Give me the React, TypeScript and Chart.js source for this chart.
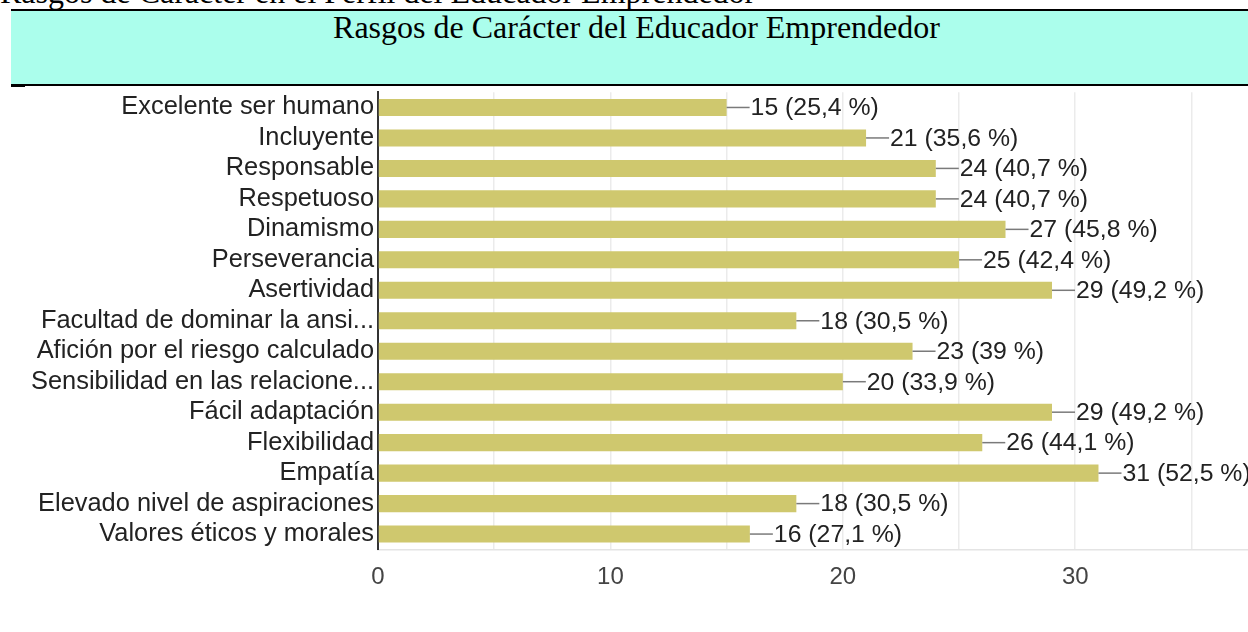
import React, { useEffect, useRef } from 'react';
import { Chart, registerables } from 'chart.js';

Chart.register(...registerables);

const docCaption = 'Rasgos de Carácter en el Perfil del Educador Emprendedor';
const chartTitle = 'Rasgos de Carácter del Educador Emprendedor';

const categories = [
  'Excelente ser humano',
  'Incluyente',
  'Responsable',
  'Respetuoso',
  'Dinamismo',
  'Perseverancia',
  'Asertividad',
  'Facultad de dominar la ansi...',
  'Afición por el riesgo calculado',
  'Sensibilidad en las relacione...',
  'Fácil adaptación',
  'Flexibilidad',
  'Empatía',
  'Elevado nivel de aspiraciones',
  'Valores éticos y morales',
];

const counts = [15, 21, 24, 24, 27, 25, 29, 18, 23, 20, 29, 26, 31, 18, 16];
const percents = [25.4, 35.6, 40.7, 40.7, 45.8, 42.4, 49.2, 30.5, 39, 33.9, 49.2, 44.1, 52.5, 30.5, 27.1];

const xMin = 0;
const xMax = 40;
const xStep = 5;
const xLabelEvery = 10;

const SANS = "'Liberation Sans', Arial, sans-serif";
const SERIF = "'Liberation Serif', 'Times New Roman', serif";

const valueLabels = {
  id: 'valueLabels',
  afterDatasetsDraw(chart: any) {
    const ctx = chart.ctx;
    const meta = chart.getDatasetMeta(0);
    ctx.save();
    meta.data.forEach((bar: any, i: number) => {
      const x = bar.x;
      const y = bar.y;
      ctx.strokeStyle = '#7a7a7a';
      ctx.lineWidth = 1.5;
      ctx.beginPath();
      ctx.moveTo(x, y);
      ctx.lineTo(x + 23, y);
      ctx.stroke();
      ctx.fillStyle = '#222';
      ctx.font = `24.8px ${SANS}`;
      ctx.textBaseline = 'middle';
      ctx.textAlign = 'left';
      const pct = String(percents[i]).replace('.', ',');
      ctx.fillText(`${counts[i]} (${pct} %)`, x + 24, y + 1);
    });
    ctx.restore();
  },
};

function BarChart() {
  const ref = useRef<HTMLCanvasElement | null>(null);
  useEffect(() => {
    if (!ref.current) return;
    const chart = new Chart(ref.current, {
      type: 'bar',
      data: {
        labels: categories,
        datasets: [
          {
            data: counts,
            backgroundColor: '#cfc86e',
            borderWidth: 0,
            barPercentage: 0.56,
            categoryPercentage: 1,
          },
        ],
      },
      options: {
        indexAxis: 'y',
        animation: false,
        responsive: false,
        devicePixelRatio: 1,
        layout: { padding: { top: 1.7, right: 0, left: 0, bottom: 0 } },
        plugins: { legend: { display: false }, tooltip: { enabled: false } },
        scales: {
          x: {
            min: xMin,
            max: xMax,
            ticks: {
              stepSize: xStep,
              autoSkip: false,
              maxRotation: 0,
              color: '#444',
              font: { size: 24, family: SANS },
              padding: 14,
              callback: (v: any) => (Number(v) % xLabelEvery === 0 ? String(v) : ''),
            },
            grid: { color: '#ebebeb', drawTicks: false, lineWidth: 1.5 },
            border: { color: '#e4e4e4', width: 1.5 },
            afterFit: (s: any) => {
              s.height = 82.7;
            },
          },
          y: {
            ticks: {
              autoSkip: false,
              color: '#222',
              font: { size: 25.4, family: SANS },
              padding: 4,
            },
            grid: { display: false, drawTicks: false },
            border: { color: '#333', width: 2 },
            afterFit: (s: any) => {
              s.width = 378;
            },
          },
        },
      },
      plugins: [valueLabels],
    });
    return () => chart.destroy();
  }, []);
  return <canvas ref={ref} width={1335} height={559} style={{ width: 1335, height: 559, display: 'block' }} />;
}

export default function App() {
  return (
    <div
      style={{
        position: 'fixed',
        left: 0,
        top: 0,
        width: 1248,
        height: 632,
        overflow: 'hidden',
        background: '#fff',
      }}
    >
      <div
        style={{
          position: 'absolute',
          left: 0,
          top: -24,
          fontFamily: SERIF,
          fontSize: 32,
          lineHeight: '32px',
          whiteSpace: 'nowrap',
          color: '#000',
        }}
      >
        {docCaption}
      </div>
      <div
        style={{
          position: 'absolute',
          left: 11,
          top: 9,
          width: 1270,
          height: 73,
          background: '#abfeec',
          borderTop: '2px solid #000',
          borderBottom: '2px solid #000',
        }}
      />
      <div
        style={{
          position: 'absolute',
          left: 0,
          top: 10,
          width: 1273,
          textAlign: 'center',
          fontFamily: SERIF,
          fontSize: 32,
          lineHeight: '34px',
          whiteSpace: 'nowrap',
          color: '#000',
        }}
      >
        {chartTitle}
      </div>
      <div style={{ position: 'absolute', left: 11, top: 85, width: 14, height: 2, background: '#000' }} />
      <div style={{ position: 'absolute', left: 0, top: 73 }}>
        <BarChart />
      </div>
    </div>
  );
}
